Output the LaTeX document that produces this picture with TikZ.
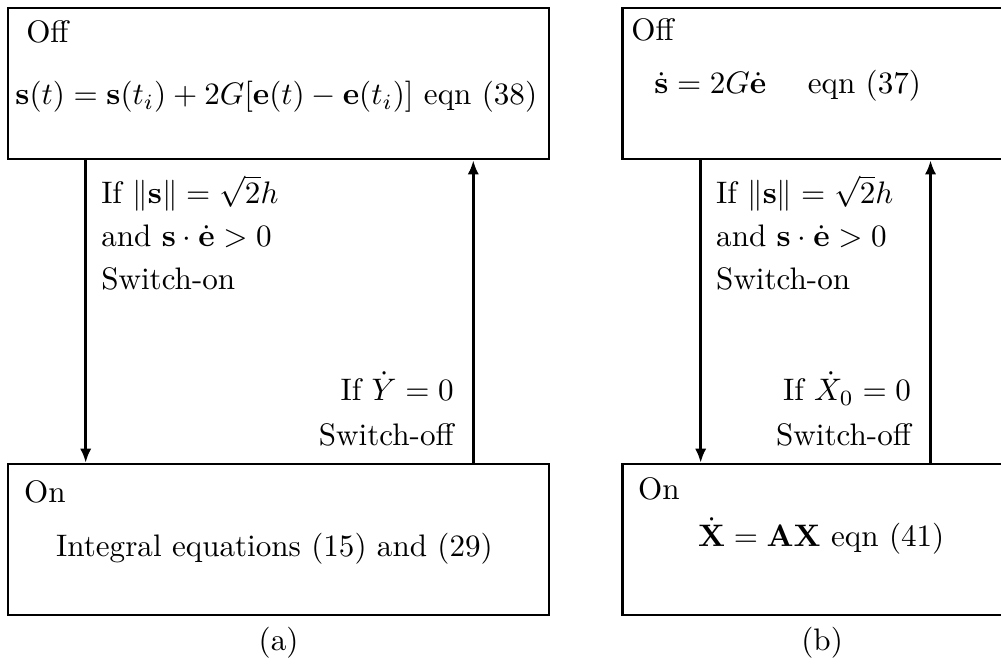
\documentclass[tikz,border=0pt]{standalone}
\usepackage{amsmath}
\usetikzlibrary{positioning, arrows.meta}

\begin{document}
\begin{tikzpicture}[
    >={Latex[length=4.5pt,width=3.6pt]},
    state/.style={rectangle, draw, line width=0.9pt, minimum height=48.5pt, inner sep=0pt},
    wide/.style={state, minimum width=173.9pt},
    narrow/.style={state, minimum width=128.6pt},
    line/.style={->, line width=0.8pt},
    txt/.style={inner sep=0pt, anchor=base west},
    cond/.style={inner sep=0pt, anchor=base west, align=left},
    condr/.style={inner sep=0pt, anchor=base east, align=right}
  ]
  \useasboundingbox (0,0) rectangle (321.8pt,213.8pt);
  \clip (0,0) rectangle (321.8pt,213.8pt);

  % Panel (a)
  \node[wide] (offA) at (89.55pt,186.95pt) {};
  \node[wide, below=97.2pt of offA] (onA) {};
  \node[txt] (offAt) at ([shift={(6.1pt,-11.5pt)}]offA.north west) {Off};
  \node[txt] (eqA) at ([shift={(2.6pt,-31.4pt)}]offA.north west)
    {$\mathbf{s}(t)=\mathbf{s}(t_i)+2G[\mathbf{e}(t)-\mathbf{e}(t_i)]$ eqn~(38)};
  \node[txt] (onAt) at ([shift={(5.4pt,-12.8pt)}]onA.north west) {On};
  \node[txt] (intA) at ([shift={(15.7pt,-30.2pt)}]onA.north west)
    {Integral equations (15) and (29)};

  \draw[line] ([xshift=25.4pt]offA.south west) -- ([xshift=25.4pt]onA.north west);
  \draw[line] ([xshift=-24.8pt]onA.north east) -- ([xshift=-24.8pt]offA.south east);
  \node[cond] (swonA) at ([shift={(30.2pt,-41.5pt)}]offA.south west)
    {If $\|\mathbf{s}\|=\sqrt{2}h$\\[1.8pt] and $\mathbf{s}\cdot\dot{\mathbf{e}}>0$\\[1.8pt] Switch-on};
  \node[condr] (swoffA) at ([shift={(-30.9pt,5.5pt)}]onA.north east)
    {If $\dot{Y}=0$\\[2.5pt] Switch-off};
  \node[anchor=base] (capA) at ([yshift=-10.9pt]onA.south) {(a)};

  % Panel (b)
  \node[narrow] (offB) at (264.3pt,186.95pt) {};
  \node[narrow, below=97.2pt of offB] (onB) {};
  \node[txt] (offBt) at ([shift={(3.2pt,-10.8pt)}]offB.north west) {Off};
  \node[txt] (eqB) at ([shift={(10.6pt,-27.9pt)}]offB.north west)
    {$\dot{\mathbf{s}}=2G\dot{\mathbf{e}}\quad$ eqn~(37)};
  \node[txt] (onBt) at ([shift={(5.4pt,-11.8pt)}]onB.north west) {On};
  \node[txt] (eqB2) at ([shift={(24.7pt,-27pt)}]onB.north west)
    {$\dot{\mathbf{X}}=\mathbf{AX}$ eqn~(41)};

  \draw[line] ([xshift=25.7pt]offB.south west) -- ([xshift=25.7pt]onB.north west);
  \draw[line] ([xshift=99.6pt]onB.north west) -- ([xshift=99.6pt]offB.south west);
  \node[cond] (swonB) at ([shift={(30.5pt,-41.5pt)}]offB.south west)
    {If $\|\mathbf{s}\|=\sqrt{2}h$\\[1.8pt] and $\mathbf{s}\cdot\dot{\mathbf{e}}>0$\\[1.8pt] Switch-on};
  \node[condr] (swoffB) at ([shift={(93.5pt,5.5pt)}]onB.north west)
    {If $\dot{X}_0=0$\\[2.5pt] Switch-off};
  \node[anchor=base] (capB) at ([yshift=-10.9pt]onB.south) {(b)};
\end{tikzpicture}
\end{document}
